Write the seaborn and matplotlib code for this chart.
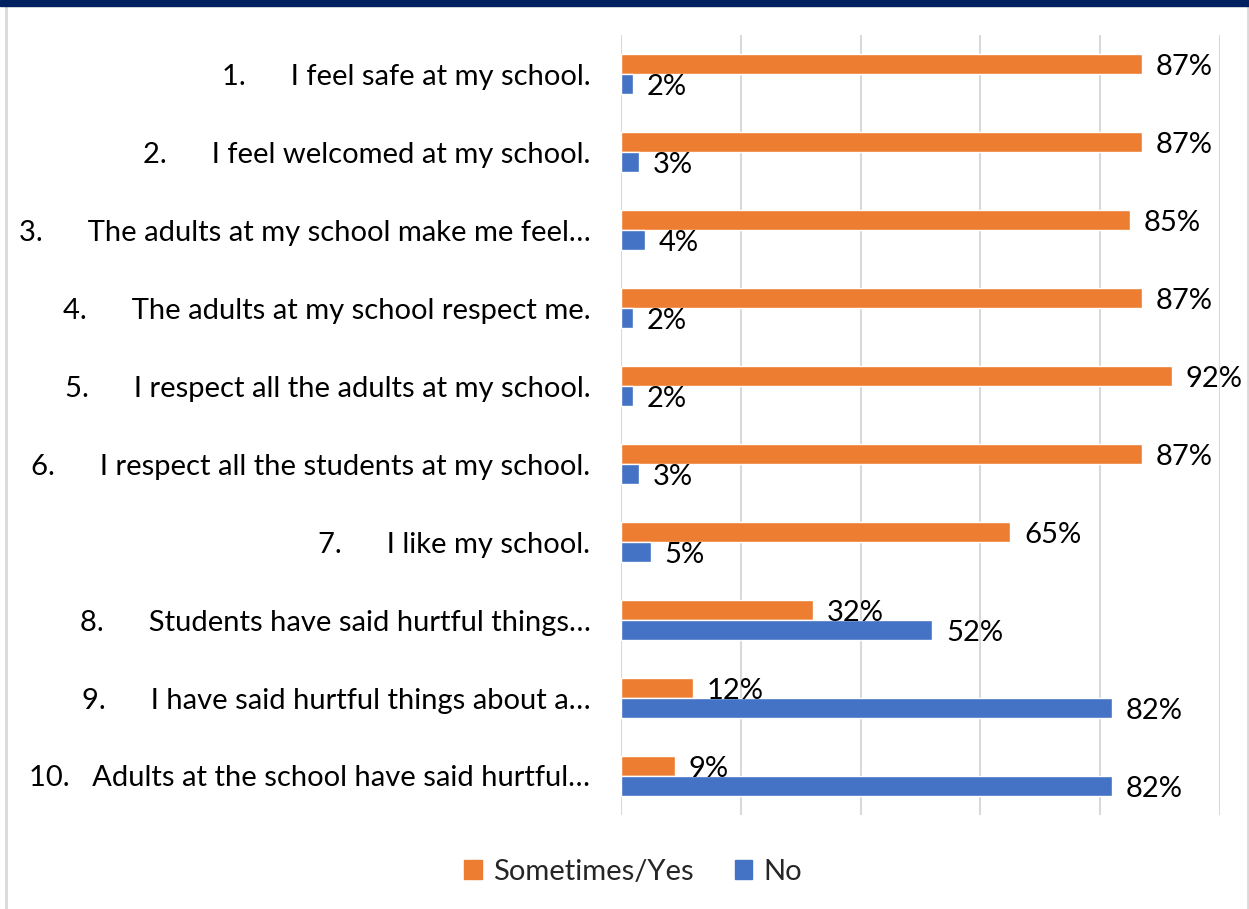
import numpy as np
import pandas as pd
import matplotlib
matplotlib.use("Agg")
import matplotlib.pyplot as plt
from matplotlib.patches import Rectangle, Patch
import seaborn as sns

# -------------------------------
# Data
# -------------------------------
questions = [
    "1.      I feel safe at my school.",
    "2.      I feel welcomed at my school.",
    "3.      The adults at my school make me feel…",
    "4.      The adults at my school respect me.",
    "5.      I respect all the adults at my school.",
    "6.      I respect all the students at my school.",
    "7.      I like my school.",
    "8.      Students have said hurtful things…",
    "9.      I have said hurtful things about a…",
    "10.   Adults at the school have said hurtful…",
]
sometimes_yes = [87, 87, 85, 87, 92, 87, 65, 32, 12, 9]
no = [2, 3, 4, 2, 2, 3, 5, 52, 82, 82]
series_names = ["Sometimes/Yes", "No"]
colors = ["#ED7D31", "#4472C4"]

df = pd.DataFrame({
    "question": questions * 2,
    "answer": [series_names[0]] * len(questions) + [series_names[1]] * len(questions),
    "pct": sometimes_yes + no,
})

# -------------------------------
# Plot
# -------------------------------
sns.set_theme(style="white")
plt.rcParams["font.family"] = ["Lato", "DejaVu Sans"]

fig = plt.figure(figsize=(12.49, 9.09), dpi=100)
ax = fig.add_axes([621 / 1249, 1 - 815 / 909, (1220 - 621) / 1249, (815 - 35) / 909])

sns.barplot(data=df, y="question", x="pct", hue="answer", order=questions,
            hue_order=series_names, palette=colors, orient="h", width=0.52,
            saturation=1, ax=ax, legend=False)

ax.set_xlim(0, 100)
ax.set_ylim(9.5, -0.5)
ax.set_xticks(np.arange(0, 101, 20))
ax.set_xticklabels([])
ax.tick_params(axis="x", length=0)
ax.tick_params(axis="y", length=0, pad=22, labelsize=21, labelcolor="#000000")
ax.grid(axis="x", color="#D9D9D9", lw=1.5)
ax.set_axisbelow(True)
for s in ax.spines.values():
    s.set_visible(False)
ax.set_xlabel("")
ax.set_ylabel("")

# value labels (a touch below bar centre, like Excel)
for cont in ax.containers:
    for p, v in zip(cont.patches, cont.datavalues):
        yc = p.get_y() + p.get_height() / 2
        ax.text(p.get_width() + 2.3, yc + 0.04, f"{v:.0f}%", va="center",
                ha="left", fontsize=21, color="#000000")

# legend
handles = [Patch(color=c, label=n) for c, n in zip(colors, series_names)]
fig.legend(handles=handles, loc="center", bbox_to_anchor=(0.507, 1 - 872 / 909),
           ncol=2, frameon=False, fontsize=21, handlelength=0.6, handleheight=0.6,
           handletextpad=0.4, columnspacing=1.4)

# chart frame and top band
fig.patches.append(Rectangle((5.5 / 1249, -0.01), (1247.5 - 5.5) / 1249, 1.02,
                             transform=fig.transFigure, fill=False,
                             edgecolor="#D9D9D9", lw=2, zorder=0))
fig.patches.append(Rectangle((0, 1 - 6 / 909), 1, 6 / 909, transform=fig.transFigure,
                             color="#002060", zorder=5))

fig.savefig("out.png", dpi=100, facecolor="white")
